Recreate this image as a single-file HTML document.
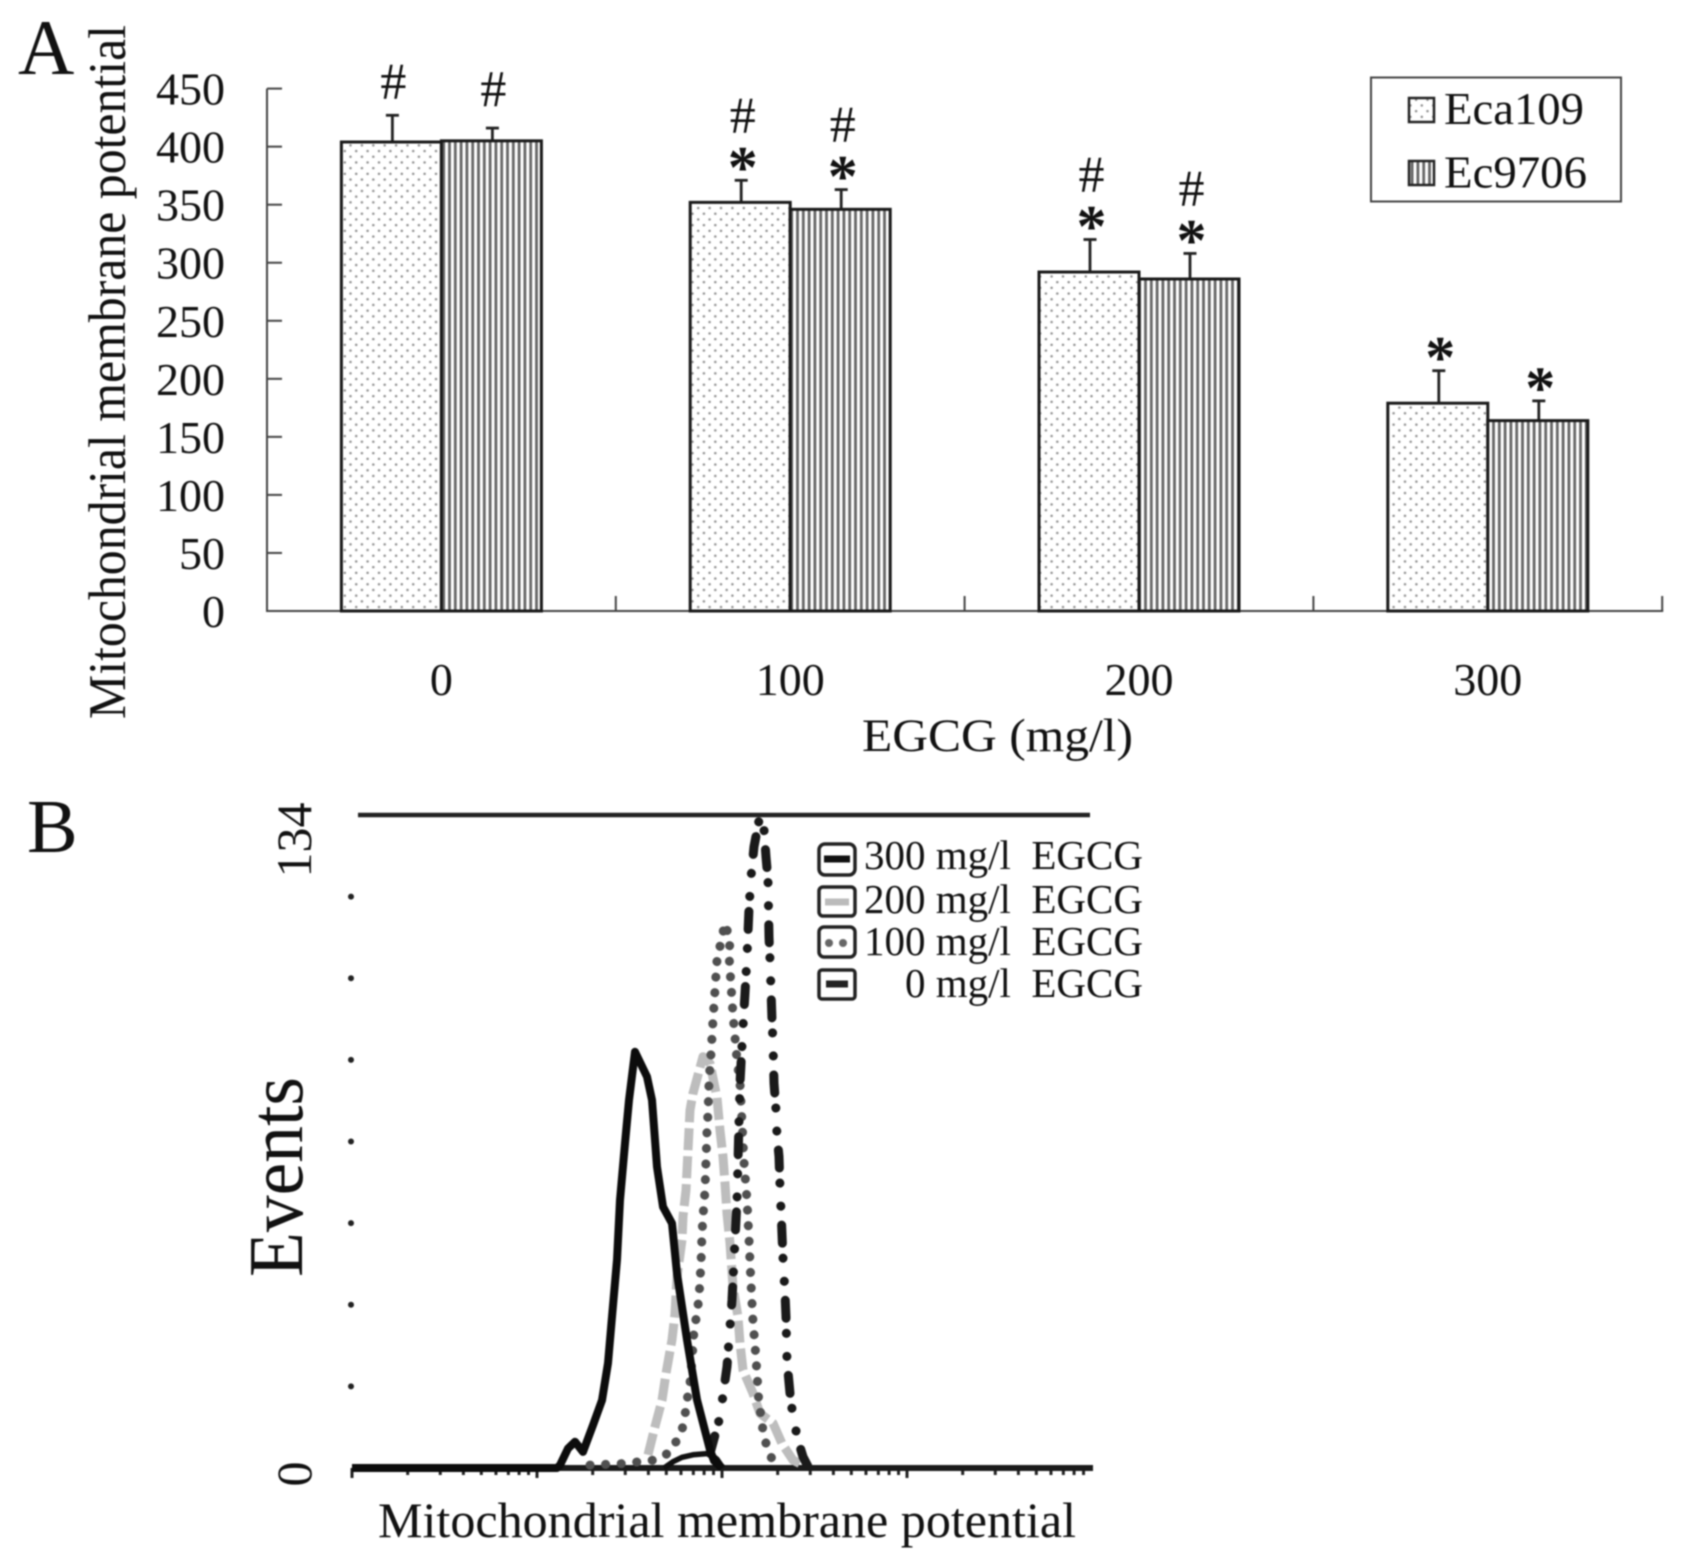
<!DOCTYPE html>
<html lang="en">
<head>
<meta charset="utf-8">
<title>Mitochondrial membrane potential</title>
<style>
html,body{margin:0;padding:0;background:#fff;width:1685px;height:1565px;overflow:hidden}
svg{display:block;filter:blur(0.8px)}
text{font-family:"Liberation Serif",serif;fill:#111}
</style>
</head>
<body>
<svg id="fig" xmlns="http://www.w3.org/2000/svg" width="1685" height="1565" viewBox="0 0 1685 1565">
  <defs>
    <pattern id="dots" width="11.4" height="11.4" patternUnits="userSpaceOnUse">
      <rect width="11.4" height="11.4" fill="#fff"/>
      <circle cx="2.8" cy="2.8" r="1.25" fill="#8f8f8f"/>
      <circle cx="8.5" cy="8.5" r="1.25" fill="#8f8f8f"/>
    </pattern>
    <pattern id="stripes" width="5.8" height="10" patternUnits="userSpaceOnUse">
      <rect width="5.8" height="10" fill="#fff"/>
      <rect x="1.5" width="2.8" height="10" fill="#666"/>
    </pattern>
  </defs>
  <rect width="1685" height="1565" fill="#fff"/>

  <g id="panelA"></g>
  <text x="18" y="74" font-size="78">A</text>
  <text transform="translate(125,372) rotate(-90)" text-anchor="middle" font-size="53" textLength="694" lengthAdjust="spacingAndGlyphs">Mitochondrial membrane potential</text>
  <text x="862" y="751" font-size="47" textLength="271" lengthAdjust="spacingAndGlyphs">EGCG (mg/l)</text>

  <g>
    <rect x="1378" y="77.5" width="250" height="124" fill="#fff" stroke="#444" stroke-width="2" transform="translate(-7,0)"/>
    <rect x="1415" y="98" width="25" height="24" fill="url(#dots)" stroke="#222" stroke-width="2.5" transform="translate(-6,0)"/>
    <text x="1451" y="124" font-size="46" textLength="140" lengthAdjust="spacingAndGlyphs" transform="translate(-7,0)">Eca109</text>
    <rect x="1415" y="161" width="25" height="24" fill="url(#stripes)" stroke="#222" stroke-width="2.5" transform="translate(-6,0)"/>
    <text x="1451" y="187.5" font-size="46" textLength="143" lengthAdjust="spacingAndGlyphs" transform="translate(-7,0)">Ec9706</text>
  </g>

  <g id="panelB"></g>
  <text x="27" y="852" font-size="76">B</text>
  <text transform="translate(311,840) rotate(-90)" text-anchor="middle" font-size="50">134</text>
  <text transform="translate(311,1474) rotate(-90)" text-anchor="middle" font-size="50">0</text>
  <text transform="translate(302,1177) rotate(-90)" text-anchor="middle" font-size="77" textLength="200" lengthAdjust="spacingAndGlyphs">Events</text>
  <text x="378" y="1537" font-size="50" textLength="698" lengthAdjust="spacingAndGlyphs">Mitochondrial membrane potential</text>

  <g>
    <rect x="819" y="844" width="36" height="31" rx="6" fill="#fff" stroke="#222" stroke-width="3.5"/>
    <line x1="824" x2="850" y1="859" y2="859" stroke="#111" stroke-width="7"/>
    <text x="1143" y="869" text-anchor="end" font-size="41" xml:space="preserve">300 mg/l  EGCG</text>
    <rect x="819" y="887" width="36" height="29" rx="4" fill="#fff" stroke="#222" stroke-width="3.5"/>
    <line x1="825" x2="849" y1="902" y2="902" stroke="#bbb" stroke-width="7"/>
    <text x="1143" y="913" text-anchor="end" font-size="41" xml:space="preserve">200 mg/l  EGCG</text>
    <rect x="819" y="927" width="36" height="30" rx="5" fill="#fff" stroke="#222" stroke-width="3.5"/>
    <circle cx="829" cy="943" r="4" fill="#666"/>
    <circle cx="843" cy="943" r="4" fill="#666"/>
    <text x="1143" y="955" text-anchor="end" font-size="41" xml:space="preserve">100 mg/l  EGCG</text>
    <rect x="819" y="970" width="36" height="29" rx="3" fill="#fff" stroke="#222" stroke-width="3.5"/>
    <line x1="826" x2="848" y1="984" y2="984" stroke="#222" stroke-width="7"/>
    <text x="1143" y="997" text-anchor="end" font-size="41" xml:space="preserve">0 mg/l  EGCG</text>
  </g>
</svg>

<script>
// ---------- Panel A data ----------
var doseLabels = ['0', '100', '200', '300'];
var yTickValues = [0, 50, 100, 150, 200, 250, 300, 350, 400, 450];
var eca109Means = [404, 352, 292, 179];
var ec9706Means = [405, 346, 286, 164];
var eca109ErrorTops = [427, 371, 320, 207];
var ec9706ErrorTops = [416, 363, 308, 181];
var eca109Marks = ['#', '#*', '#*', '*'];
var ec9706Marks = ['#', '#*', '#*', '*'];

// ---------- Panel B data (channel, events) ----------
var curve300Channels = [0, 205, 208, 216, 223, 231, 241, 250, 256, 260, 265, 268, 273, 277, 283, 295, 300, 305, 311, 320, 325, 335, 345, 358, 362, 370];
var curve300Events = [0, 0, 0.6, 4.0, 5.4, 3.3, 8.8, 13.9, 21.5, 31.0, 42.7, 55.0, 66.6, 75.5, 85.4, 80.3, 75.5, 61.8, 53.6, 50.2, 39.9, 26.3, 14.0, 3.7, 1.5, 0];
var bumpChannels = [312, 321, 330, 341, 358, 365, 371];
var bumpEvents = [0, 1.3, 2.2, 2.7, 3.0, 1.8, 0];
var curve200Channels = [296, 303, 310, 314, 320, 323, 325, 330, 331, 334, 336, 338, 341, 351, 358, 365, 368, 371, 373, 375, 378, 381, 386, 388, 391, 401, 408, 421, 430, 441, 451];
var curve200Events = [2.7, 8.5, 13.9, 19.4, 26.3, 31.7, 39.2, 46.8, 51.6, 57, 65.2, 73.4, 76.9, 84.4, 83, 76, 69.3, 63.9, 58.4, 52.2, 46.1, 37.2, 31, 25.6, 20.1, 15.3, 11.2, 9.2, 5, 1.6, 0.6];
var curve100Channels = [238, 271, 301, 316, 323, 330, 333, 335, 338, 340, 342, 345, 347, 349, 350, 351, 353, 354, 355, 356, 357, 358, 359, 360, 361, 363, 365, 369, 373, 378, 377, 379, 381, 385, 388, 392, 395, 397, 399, 401, 403, 405, 407, 410, 411, 415, 418, 423];
var curve100Events = [0.6, 0.9, 1.6, 3.0, 5.0, 7.8, 10.9, 13.9, 17.4, 22.1, 28.3, 31.7, 35.1, 42, 48.1, 51.6, 57, 63.2, 69.3, 72.8, 79, 82.4, 85.1, 88.5, 91.9, 98.1, 104.2, 108, 111.8, 108.3, 105.3, 99.1, 93, 83.7, 79, 62.8, 55, 46.8, 37.9, 30, 25.2, 19.4, 12.9, 9.8, 7.1, 4.4, 2.7, 0.6];
var curve0Channels = [358, 368, 375, 380, 385, 388, 391, 393, 395, 397, 399, 402, 408, 412, 414, 416, 417, 418, 419, 420, 421, 422, 424, 425, 427, 428, 429, 431, 433, 434, 435, 438, 441, 446, 451, 456];
var curve0Events = [3.0, 10.5, 20.8, 34.5, 55.0, 79, 90.6, 97.4, 105, 114.8, 121.3, 127.5, 134, 131, 125.4, 120.7, 109, 104.2, 98.1, 91.9, 87.1, 79, 73.4, 68.3, 63.9, 57.7, 52.9, 43, 35.8, 31, 22, 15.3, 10.5, 5.7, 2.3, 0.3];
var yDotTicks = [16.75, 33.5, 50.25, 67, 83.75, 100.5, 117.25];

// ---------- Helpers ----------
var NS = 'http://www.w3.org/2000/svg';
var panelA = document.getElementById('panelA');
var panelB = document.getElementById('panelB');
function make(tag, parent, attrs) {
  var n = document.createElementNS(NS, tag);
  for (var k in attrs) n.setAttribute(k, attrs[k]);
  parent.appendChild(n);
  return n;
}

// ---------- Panel A axes ----------
function yA(v) { return 611 - v * 522.4 / 450; }
function groupLeft(i) { return 267 + 348.8 * i; }
function groupCenter(i) { return groupLeft(i) + 348.8 / 2; }

var el;
el = make('line', panelA, {x1: 267, x2: 267, y1: yA(450), y2: yA(0), stroke: '#444', 'stroke-width': 2});


el = make('line', panelA, {x1: 266, x2: groupLeft(4) + 1, y1: yA(0), y2: yA(0), stroke: '#444', 'stroke-width': 2});



yTickValues.forEach(function (v) {
  var t = make('line', panelA, {x1: 267, x2: 282, y1: yA(v), y2: yA(v), stroke: '#444', 'stroke-width': 2});
  
  
  var l = make('text', panelA, {x: 225, y: yA(v) + 16, 'text-anchor': 'end', 'font-size': 46});
  
  
  l.textContent = String(v);
});

[1, 2, 3, 4].forEach(function (i) {
  var t = make('line', panelA, {x1: groupLeft(i), x2: groupLeft(i), y1: yA(0), y2: yA(0) - 15, stroke: '#444', 'stroke-width': 2});
  
  
});

doseLabels.forEach(function (d, i) {
  var l = make('text', panelA, {x: groupCenter(i), y: 695, 'text-anchor': 'middle', 'font-size': 46});
  
  
  l.textContent = d;
});

function drawSeries(means, tops, marks, fill, offset, seriesName, hashLift) {
  means.forEach(function (m, i) {
    var x = groupCenter(i) + offset;
    var cx = x + 50;
    var err = make('line', panelA, {x1: cx + 1, x2: cx + 1, y1: yA(m), y2: yA(tops[i]), stroke: '#222', 'stroke-width': 2.8});
    
    
    var cap = make('line', panelA, {x1: cx - 5.5, x2: cx + 7.5, y1: yA(tops[i]), y2: yA(tops[i]), stroke: '#222', 'stroke-width': 2.8});
    
    
    var bar = make('rect', panelA, {x: x, y: yA(m), width: 100, height: yA(0) - yA(m), fill: fill, stroke: '#1a1a1a', 'stroke-width': 3});
    
    
    var mark = marks[i];
    var top = yA(tops[i]);
    if (mark.indexOf('*') >= 0) {
      var starCy = top - 21;
      var s = make('text', panelA, {x: cx + 2.5, y: starCy + 28, 'text-anchor': 'middle', 'font-size': 60, 'font-weight': 'bold'});
      
      
      s.textContent = '*';
      if (mark.indexOf('#') >= 0) {
        var h = make('text', panelA, {x: cx + 2.5, y: starCy - 43 + 16, 'text-anchor': 'middle', 'font-size': 52});
        
        
        h.textContent = '#';
      }
    } else if (mark.indexOf('#') >= 0) {
      var h2 = make('text', panelA, {x: cx + 2, y: top - hashLift + 16, 'text-anchor': 'middle', 'font-size': 52});
      
      
      h2.textContent = '#';
    }
  });
}
drawSeries(eca109Means, eca109ErrorTops, eca109Marks, 'url(#dots)', -100, 'eca109', 33);
drawSeries(ec9706Means, ec9706ErrorTops, ec9706Marks, 'url(#stripes)', 0, 'ec9706', 38);

// ---------- Panel B axes ----------
function xB(ch) { return 352 + ch; }
function yB(ev) { return 1468 - ev * 653 / 134; }
var decadeWidth = 185;

el = make('line', panelB, {x1: 358, x2: 1090, y1: yB(134), y2: yB(134), stroke: '#222', 'stroke-width': 4.5});



yDotTicks.forEach(function (v) {
  var d = make('circle', panelB, {cx: 351, cy: yB(v), r: 3, fill: '#222'});
  
  
});

for (var dec = 0; dec < 4; dec++) {
  for (var m = 1; m < 10; m++) {
    var tx = xB((dec + Math.log10(m)) * decadeWidth);
    var tick = make('line', panelB, {x1: tx, x2: tx, y1: 1468, y2: m === 1 ? 1478 : 1475, stroke: '#222', 'stroke-width': 3});
    
    
  }
}

el = make('line', panelB, {x1: xB(0), x2: xB(741), y1: yB(0), y2: yB(0), stroke: '#1a1a1a', 'stroke-width': 6});



function curvePath(xs, ys) {
  return xs.map(function (c, i) {
    return (i ? 'L' : 'M') + xB(c).toFixed(1) + ' ' + yB(ys[i]).toFixed(1);
  }).join(' ');
}

var c200 = make('path', panelB, {d: curvePath(curve200Channels, curve200Events), fill: 'none', stroke: '#bdbdbd', 'stroke-width': 9, 'stroke-dasharray': '22 6', 'stroke-linejoin': 'round'});



var c100 = make('path', panelB, {d: curvePath(curve100Channels, curve100Events), fill: 'none', stroke: '#505050', 'stroke-width': 9, 'stroke-dasharray': '0.1 15.5', 'stroke-linecap': 'round', 'stroke-linejoin': 'round'});



var c0 = make('path', panelB, {d: curvePath(curve0Channels, curve0Events), fill: 'none', stroke: '#1a1a1a', 'stroke-width': 9, 'stroke-dasharray': '18 15 0.1 23 0.1 19', 'stroke-linecap': 'round', 'stroke-linejoin': 'round'});



var bump = make('path', panelB, {d: curvePath(bumpChannels, bumpEvents), fill: 'none', stroke: '#111', 'stroke-width': 5.5, 'stroke-linejoin': 'round'});



var c300 = make('path', panelB, {d: curvePath(curve300Channels, curve300Events), fill: 'none', stroke: '#0c0c0c', 'stroke-width': 8, 'stroke-linejoin': 'round'});


</script>
</body>
</html>
